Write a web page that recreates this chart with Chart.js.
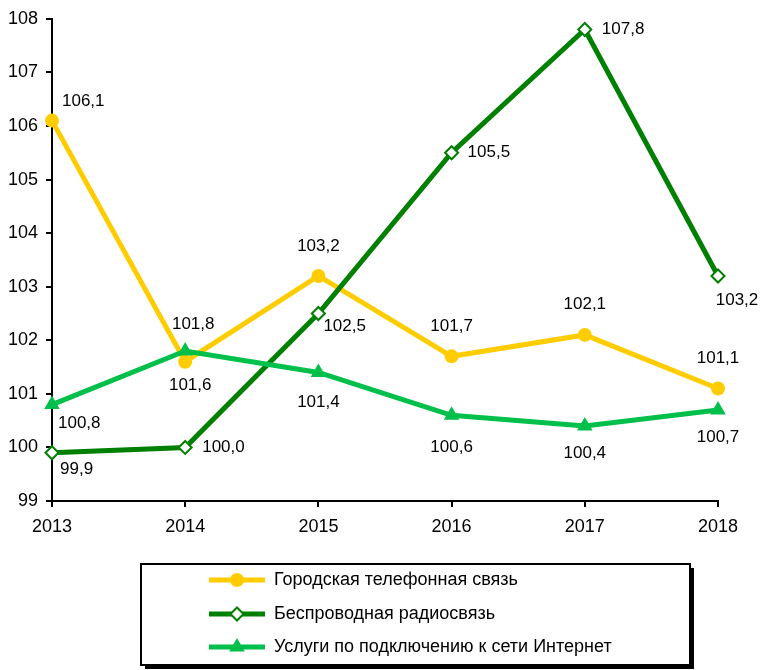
<!DOCTYPE html>
<html>
<head>
<meta charset="utf-8">
<script src="https://cdn.jsdelivr.net/npm/chart.js@4/dist/chart.umd.min.js"></script>
<style>
  html, body { margin: 0; padding: 0; background: #fff; }
  #wrap { width: 761px; height: 670px; position: relative; }
</style>
</head>
<body>
<div id="wrap"><canvas id="myChart" width="761" height="670"></canvas></div>
<script>
const years = ['2013', '2014', '2015', '2016', '2017', '2018'];
const cityPhone = [106.1, 101.6, 103.2, 101.7, 102.1, 101.1];
const wirelessRadio = [99.9, 100.0, 102.5, 105.5, 107.8, 103.2];
const internetAccess = [100.8, 101.8, 101.4, 100.6, 100.4, 100.7];

const seriesNames = [
  'Городская телефонная связь',
  'Беспроводная радиосвязь',
  'Услуги по подключению к сети Интернет'
];

const FONT = "'Liberation Sans', Arial, sans-serif";

// where each value label sits relative to its point: [dx, dy, align]
const labelSpots = [
  [[10, -19, 'left'], [5, 24, 'center'], [0, -30, 'center'], [0, -30, 'center'], [0, -31, 'center'], [0, -30, 'center']],
  [[8, 17, 'left'], [17, 0, 'left'], [5, 13, 'left'], [16, 0, 'left'], [17, 0, 'left'], [19, 24, 'center']],
  [[6, 19, 'left'], [8, -27, 'center'], [0, 30, 'center'], [0, 32, 'center'], [0, 27, 'center'], [0, 27, 'center']]
];

const fmt = v => v.toFixed(1).replace('.', ',');

const valueLabels = {
  id: 'valueLabels',
  afterDatasetsDraw(chart) {
    const ctx = chart.ctx;
    ctx.save();
    ctx.font = '17px ' + FONT;
    ctx.fillStyle = '#000';
    ctx.textBaseline = 'middle';
    chart.data.datasets.forEach((ds, i) => {
      chart.getDatasetMeta(i).data.forEach((pt, j) => {
        const s = labelSpots[i][j];
        ctx.textAlign = s[2];
        ctx.fillText(fmt(ds.data[j]), pt.x + s[0], pt.y + s[1]);
      });
    });
    ctx.restore();
  }
};

function drawMarker(ctx, ds, x, y) {
  ctx.save();
  ctx.fillStyle = ds.pointBackgroundColor;
  ctx.strokeStyle = ds.pointBorderColor;
  ctx.lineWidth = ds.pointBorderWidth;
  const r = ds.pointRadius;
  ctx.beginPath();
  if (ds.pointStyle === 'circle') {
    ctx.arc(x, y, r, 0, Math.PI * 2);
  } else if (ds.pointStyle === 'rectRot') {
    ctx.moveTo(x, y - r); ctx.lineTo(x + r, y); ctx.lineTo(x, y + r); ctx.lineTo(x - r, y);
    ctx.closePath();
  } else {
    ctx.moveTo(x, y - r); ctx.lineTo(x + r * 0.87, y + r * 0.5); ctx.lineTo(x - r * 0.87, y + r * 0.5);
    ctx.closePath();
  }
  ctx.fill();
  if (ds.pointBorderWidth) ctx.stroke();
  ctx.restore();
}

const boxLegend = {
  id: 'boxLegend',
  afterDraw(chart) {
    const ctx = chart.ctx;
    const bx = 141, by = 564, bw = 549, bh = 101;
    ctx.save();
    ctx.fillStyle = '#000';
    ctx.fillRect(bx + 4, by + 4, bw, bh);
    ctx.fillStyle = '#fff';
    ctx.fillRect(bx, by, bw, bh);
    ctx.strokeStyle = '#000';
    ctx.lineWidth = 2;
    ctx.strokeRect(bx, by, bw, bh);
    const rows = [580, 614, 647];
    chart.data.datasets.forEach((ds, i) => {
      const y = rows[i];
      ctx.strokeStyle = ds.borderColor;
      ctx.lineWidth = ds.borderWidth;
      ctx.beginPath();
      ctx.moveTo(209, y); ctx.lineTo(265, y);
      ctx.stroke();
      drawMarker(ctx, ds, 237, y);
      ctx.fillStyle = '#000';
      ctx.font = '18px ' + FONT;
      ctx.textAlign = 'left';
      ctx.textBaseline = 'middle';
      ctx.fillText(seriesNames[i], 274, y);
    });
    ctx.restore();
  }
};

const myChart = new Chart('myChart', {
  type: 'line',
  data: {
    labels: years,
    datasets: [
      {
        label: seriesNames[0],
        data: cityPhone,
        borderColor: '#FFCC00',
        borderWidth: 5,
        pointStyle: 'circle',
        pointRadius: 7,
        pointBackgroundColor: '#FFCC00',
        pointBorderColor: '#FFCC00',
        pointBorderWidth: 0,
        order: 2
      },
      {
        label: seriesNames[1],
        data: wirelessRadio,
        borderColor: '#008000',
        borderWidth: 5,
        pointStyle: 'rectRot',
        pointRadius: 6.5,
        pointBackgroundColor: '#FFFFFF',
        pointBorderColor: '#008000',
        pointBorderWidth: 2,
        order: 1
      },
      {
        label: seriesNames[2],
        data: internetAccess,
        borderColor: '#00C04B',
        borderWidth: 5,
        pointStyle: 'triangle',
        pointRadius: 9,
        pointBackgroundColor: '#00C04B',
        pointBorderColor: '#00C04B',
        pointBorderWidth: 0,
        order: 0
      }
    ]
  },
  options: {
    responsive: false,
    animation: false,
    layout: { padding: { top: 18, right: 43, left: 0, bottom: 0 } },
    plugins: {
      legend: { display: false },
      tooltip: { enabled: false }
    },
    scales: {
      x: {
        offset: false,
        grid: { display: true, drawOnChartArea: false, drawTicks: true, tickLength: 6, color: '#000', lineWidth: 2 },
        border: { display: true, color: '#000', width: 2 },
        ticks: { color: '#000', font: { size: 18, family: FONT }, padding: 9, maxRotation: 0 },
        afterFit(scale) { scale.height = 169; }
      },
      y: {
        min: 99,
        max: 108,
        grid: { display: true, drawOnChartArea: false, drawTicks: true, tickLength: 6, color: '#000', lineWidth: 2 },
        border: { display: true, color: '#000', width: 2 },
        ticks: { stepSize: 1, color: '#000', font: { size: 18, family: FONT }, padding: 8 },
        afterFit(scale) { scale.width = 52; }
      }
    }
  },
  plugins: [valueLabels, boxLegend]
});
</script>
</body>
</html>
